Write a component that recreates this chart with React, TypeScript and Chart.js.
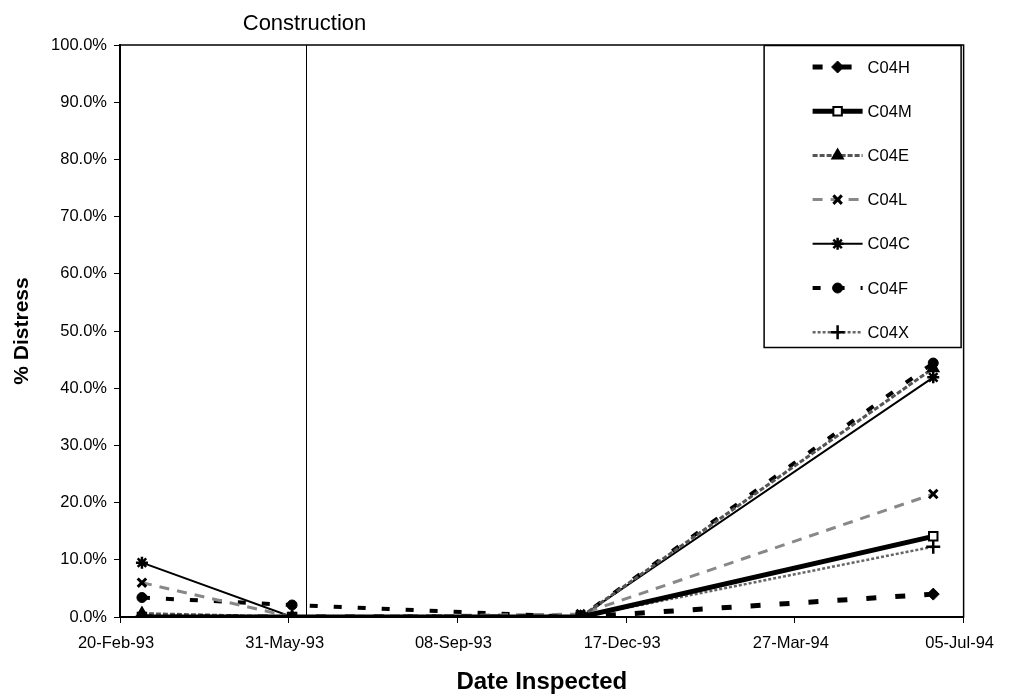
import React, { useEffect, useRef } from 'react';
import { Chart, registerables, PointElement } from 'chart.js';

Chart.register(...registerables);

// ---- data ----
const inspectionDates = ['1993-03-05', '1993-06-02', '1993-11-20', '1994-06-17'];
const tickDates = ['1993-02-20', '1993-05-31', '1993-09-08', '1993-12-17', '1994-03-27', '1994-07-05'];
const constructionDate = '1993-06-10';
const constructionLabel = 'Construction';
const seriesNames = ['C04H', 'C04M', 'C04E', 'C04L', 'C04C', 'C04F', 'C04X'];
const c04H = [0, 0, 0, 4.0];
const c04M = [0, 0, 0, 14.1];
const c04E = [0.6, 0, 0, 43.5];
const c04L = [6.0, 0, 0.5, 21.5];
const c04C = [9.5, 0, 0, 41.9];
const c04F = [3.4, 2.1, 0, 44.4];
const c04X = [0, 0, 0, 12.3];
const seriesValues = [c04H, c04M, c04E, c04L, c04C, c04F, c04X];
const yTicksMin = 0;
const yTicksMax = 100;
const yTickStep = 10;

// ---- styles ----
const seriesStyles = [
  { color: '#000', width: 5, dash: [10, 19], point: 'rectRot', radius: 6, pbw: 1, bg: '#000' },
  { color: '#000', width: 5, dash: [], point: 'rect', radius: 6, pbw: 2, bg: '#fff' },
  { color: '#555', width: 3, dash: [5, 2], point: 'triangle', radius: 6, pbw: 2, bg: '#000' },
  { color: '#888', width: 3, dash: [10, 8], point: 'crossRot', radius: 6, pbw: 3, bg: '#000' },
  { color: '#000', width: 2, dash: [], point: 'star', radius: 6, pbw: 2.5, bg: '#000' },
  { color: '#000', width: 4, dash: [8, 16], point: 'circle', radius: 5, pbw: 1, bg: '#000' },
  { color: '#666', width: 2.5, dash: [3, 2], point: 'cross', radius: 7, pbw: 2.5, bg: '#000' },
];

const FONT = "'Liberation Sans', Arial, sans-serif";
const MONTHS = ['Jan', 'Feb', 'Mar', 'Apr', 'May', 'Jun', 'Jul', 'Aug', 'Sep', 'Oct', 'Nov', 'Dec'];

const dayNum = (s: string) => {
  const [y, m, d] = s.split('-').map(Number);
  return Date.UTC(y, m - 1, d) / 86400000;
};
const fmtDay = (n: number) => {
  const dt = new Date(Math.round(n) * 86400000);
  const dd = String(dt.getUTCDate()).padStart(2, '0');
  return `${dd}-${MONTHS[dt.getUTCMonth()]}-${String(dt.getUTCFullYear()).slice(2)}`;
};

const overlayPlugin = {
  id: 'overlay',
  beforeDatasetsDraw(chart: any) {
    const { ctx, chartArea, scales } = chart;
    const x = Math.round(scales.x.getPixelForValue(dayNum(constructionDate))) + 0.5;
    ctx.save();
    ctx.strokeStyle = '#000';
    ctx.lineWidth = 1;
    ctx.beginPath();
    ctx.moveTo(x, chartArea.top);
    ctx.lineTo(x, chartArea.bottom);
    ctx.stroke();
    ctx.fillStyle = '#000';
    ctx.font = `22px ${FONT}`;
    ctx.textAlign = 'center';
    ctx.textBaseline = 'alphabetic';
    ctx.fillText(constructionLabel, x - 2, chartArea.top - 15);
    ctx.restore();
  },
  afterDraw(chart: any) {
    const { ctx, chartArea } = chart;
    ctx.save();
    // frame
    ctx.strokeStyle = '#000';
    ctx.lineWidth = 1.5;
    ctx.strokeRect(chartArea.left, chartArea.top, chartArea.right - chartArea.left, chartArea.bottom - chartArea.top);
    // legend
    const bw = 197;
    const bh = 302;
    const bx = chartArea.right - bw - 3;
    const by = chartArea.top;
    ctx.fillStyle = '#fff';
    ctx.fillRect(bx, by, bw, bh);
    ctx.lineWidth = 1.5;
    ctx.strokeRect(bx + 0.5, by + 0.5, bw, bh);
    chart.data.datasets.forEach((ds: any, i: number) => {
      const y = by + 22 + i * 44.2;
      const x0 = bx + 49;
      const x1 = bx + 99;
      ctx.save();
      ctx.strokeStyle = ds.borderColor;
      ctx.lineWidth = ds.borderWidth;
      ctx.setLineDash(ds.borderDash || []);
      ctx.beginPath();
      ctx.moveTo(x0, y);
      ctx.lineTo(x1, y);
      ctx.stroke();
      ctx.restore();
      const p: any = new PointElement({});
      p.x = (x0 + x1) / 2;
      p.y = y;
      p.options = {
        radius: ds.pointRadius,
        pointStyle: ds.pointStyle,
        borderColor: ds.pointBorderColor,
        borderWidth: ds.pointBorderWidth,
        backgroundColor: ds.pointBackgroundColor,
        rotation: 0,
      };
      ctx.save();
      ctx.setLineDash([]);
      p.draw(ctx, chartArea);
      ctx.restore();
      ctx.fillStyle = '#000';
      ctx.font = `16.5px ${FONT}`;
      ctx.textAlign = 'left';
      ctx.textBaseline = 'middle';
      ctx.fillText(ds.label, x1 + 5, y + 1);
    });
    ctx.restore();
  },
};

export default function App() {
  const ref = useRef<HTMLCanvasElement>(null);
  useEffect(() => {
    if (!ref.current) return;
    const xs = inspectionDates.map(dayNum);
    const datasets = seriesNames.map((name, i) => {
      const s = seriesStyles[i];
      return {
        label: name,
        data: seriesValues[i].map((v, j) => ({ x: xs[j], y: v })),
        borderColor: s.color,
        borderWidth: s.width,
        borderDash: s.dash,
        pointStyle: s.point,
        pointRadius: s.radius,
        pointBorderColor: '#000',
        pointBorderWidth: s.pbw,
        pointBackgroundColor: s.bg,
        fill: false,
        tension: 0,
      };
    });
    const chart = new Chart(ref.current, {
      type: 'line',
      data: { datasets },
      plugins: [overlayPlugin],
      options: {
        animation: false,
        responsive: false,
        devicePixelRatio: 1,
        layout: { padding: { top: 45, right: 43, left: 0, bottom: 0 } },
        plugins: { legend: { display: false }, tooltip: { enabled: false } },
        scales: {
          x: {
            type: 'linear',
            min: dayNum(tickDates[0]),
            max: dayNum(tickDates[tickDates.length - 1]),
            afterBuildTicks: (scale: any) => {
              scale.ticks = tickDates.map((d) => ({ value: dayNum(d) }));
            },
            afterFit: (scale: any) => {
              scale.height = 81;
            },
            ticks: {
              callback: (v: any) => fmtDay(Number(v)),
              color: '#000',
              font: { family: FONT, size: 16.5 },
              padding: 11,
              maxRotation: 0,
              autoSkip: false,
              labelOffset: -4,
            },
            grid: { display: true, drawOnChartArea: false, drawTicks: true, tickLength: 6, color: '#000' },
            border: { display: true, color: '#000', width: 2 },
            title: {
              display: true,
              text: 'Date Inspected',
              color: '#000',
              font: { family: FONT, size: 24, weight: 'bold' },
              padding: { top: 0, bottom: 1 },
            },
          },
          y: {
            min: yTicksMin,
            max: yTicksMax,
            afterFit: (scale: any) => {
              scale.width = 120;
            },
            ticks: {
              stepSize: yTickStep,
              callback: (v: any) => Number(v).toFixed(1) + '%',
              color: '#000',
              font: { family: FONT, size: 16.5 },
              padding: 7,
            },
            grid: { display: true, drawOnChartArea: false, drawTicks: true, tickLength: 6, color: '#000' },
            border: { display: true, color: '#000', width: 2 },
            title: {
              display: true,
              text: '% Distress',
              color: '#000',
              font: { family: FONT, size: 21, weight: 'bold' },
              padding: { top: 10, bottom: 0 },
            },
          },
        },
      } as any,
    });
    return () => chart.destroy();
  }, []);
  return (
    <div style={{ position: 'absolute', left: 0, top: 0, width: 1009, height: 698, background: '#fff' }}>
      <canvas ref={ref} width={1009} height={698} style={{ display: 'block' }} />
    </div>
  );
}
